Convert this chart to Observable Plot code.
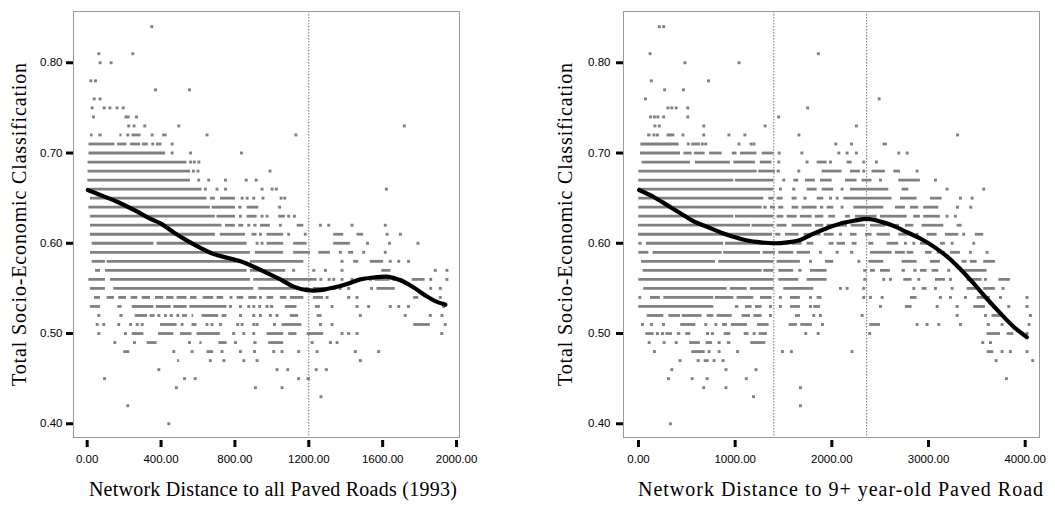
<!DOCTYPE html>
<html><head><meta charset="utf-8">
<script src="https://cdn.jsdelivr.net/npm/d3@7"></script>
<script src="https://cdn.jsdelivr.net/npm/@observablehq/plot@0.6"></script>
<style>
body{margin:0;background:#fff;}
#wrap{display:flex;width:1055px;height:506px;overflow:hidden;}
</style></head><body><div id="wrap"></div>
<script>
// ---- axis ticks / labels ----
const yTicks = [0.40, 0.50, 0.60, 0.70, 0.80];
const leftXTicks = [0, 400, 800, 1200, 1600, 2000];
const rightXTicks = [0, 1000, 2000, 3000, 4000];
const yTitle = "Total Socio-Economic Classification";
const leftXTitle = "Network Distance to all Paved Roads (1993)";
const rightXTitle = "Network Distance to 9+ year-old Paved Road";

// ---- vertical reference (dotted) lines ----
const leftRefLines = [1200];
const rightRefLines = [1400, 2360];

// ---- smoothed fit lines ----
const leftCurveX = [4, 90, 162, 253, 343, 397, 469, 541, 613, 686, 758, 830, 902, 974, 1046, 1118, 1191, 1263, 1335, 1407, 1479, 1551, 1624, 1696, 1768, 1840, 1894, 1939];
const leftCurveY = [0.659, 0.652, 0.646, 0.637, 0.627, 0.622, 0.612, 0.603, 0.595, 0.588, 0.584, 0.580, 0.574, 0.567, 0.560, 0.552, 0.548, 0.548, 0.551, 0.555, 0.560, 0.562, 0.563, 0.559, 0.551, 0.541, 0.535, 0.532];
const rightCurveX = [7, 162, 300, 438, 576, 714, 851, 989, 1127, 1265, 1403, 1541, 1679, 1817, 1955, 2092, 2230, 2368, 2506, 2644, 2782, 2920, 3058, 3196, 3333, 3471, 3609, 3747, 3885, 4016];
const rightCurveY = [0.659, 0.651, 0.642, 0.633, 0.624, 0.618, 0.612, 0.607, 0.603, 0.601, 0.600, 0.601, 0.604, 0.611, 0.617, 0.622, 0.625, 0.627, 0.624, 0.619, 0.612, 0.605, 0.596, 0.585, 0.571, 0.555, 0.538, 0.522, 0.507, 0.496];

// ---- scatter rows: [value, "x x x1-x2 ..."]  (single token = one case, a-b = run of adjacent cases) ----
const leftRows = [
  [0.84, "350"],
  [0.81, "63 247"],
  [0.80, "70 130"],
  [0.78, "20 45"],
  [0.77, "370 554"],
  [0.76, "38 70"],
  [0.75, "27 92 123 162 195"],
  [0.74, "34 210 222 267"],
  [0.73, "225 254 312 496 1717"],
  [0.72, "18-32 63-81 177-189 220 243-292 352 409-433 649 1130"],
  [0.71, "10-150 165-215 235-290 305 320 355 380 395 460"],
  [0.70, "10-425 460 560 835"],
  [0.69, "5-540 560 580 605"],
  [0.68, "5-560 575 600 990"],
  [0.67, "4-559 604 658 749 861 915"],
  [0.66, "18-622 640 703 749 947 1001 1024 1620"],
  [0.65, "18-649 667-694 722-803 839 866 902 952 1050 1070"],
  [0.64, "9-667 676-803 821-839 866-929 1042"],
  [0.63, "18-694 703-803 830 866-920 947 974 1037-1073 1091 1122"],
  [0.62, "18-730 749-803 821-848 875 902-920 938-992 1046 1137-1173 1263 1308 1434 1614"],
  [0.61, "18-694 721-857 893-920 938 974-1064 1091 1181 1335-1389 1461-1497 1624 1696"],
  [0.60, "27-361 379-866 920 947 974-1064 1118-1191 1335-1425 1518 1637 1791"],
  [0.59, "18-884 911-1064 1118-1209 1254-1317 1371 1416-1443 1497 1614"],
  [0.58, "27-99 108-848 884-1173 1380 1443-1470 1533-1605 1641 1687 1740"],
  [0.57, "45-72 99-866 884-1075 1118 1227 1290 1380 1595-1645 1885 1948"],
  [0.56, "9-99 126-884 902-1245 1265 1310 1335 1380 1434 1497 1533 1560-1640 1660 1700 1760-1830 1860 1948"],
  [0.55, "18-99 144-902 929-1140 1190 1225-1320 1340 1370 1416 1540 1569-1668 1777-1786 1860 1912"],
  [0.54, "40-72 108-148 171-213 238-274 298-343 370-415 430-470 487-541 559-595 628-685 703-739 779 812-848 875-920 938 974-1010 1046-1082 1100-1173 1225-1280 1299 1416 1461 1768-1795 1912"],
  [0.53, "18-72 166-189 244-361 375-455 469-541 556-757 776 830 875 902 934 974 992-1010 1073-1136 1236-1263 1326 1461 1524 1641 1687 1740 1930"],
  [0.52, "63 177-195 260-327 341-368 388 424 455 491 516-543 568-577 622-712 730-757 830 902 938 992 1028 1100-1145 1245-1272 1479 1722 1858 1921"],
  [0.51, "54 90 171 235 271 298 397-487 514 568-595 649 676 722 815 839 902 920 1014 1055-1163 1263 1326 1768-1858 1939"],
  [0.50, "63 207 244-307 386-469 505-568 595-721 793 848 902 974-1064 1091-1136 1191-1281 1380 1416 1461 1920"],
  [0.49, "150 256 325-379 554 610-622 713-758 803 902-920 983-1064 1218 1317 1353"],
  [0.48, "198-231 469 568 649-685 730 830 906 1010 1055 1145 1245 1452 1578"],
  [0.47, "490-501 667 740 848 920 1479"],
  [0.46, "388 1028 1086 1240 1295"],
  [0.45, "94 527 585 1145 1190-1209"],
  [0.44, "483 911 1055"],
  [0.43, "1266"],
  [0.42, "220"],
  [0.40, "442"]
];

const rightRows = [
  [0.84, "215 260"],
  [0.81, "120 1860"],
  [0.80, "480 1040"],
  [0.78, "133 725"],
  [0.77, "270 465"],
  [0.76, "72 2489"],
  [0.75, "305 345 390 510 1750"],
  [0.74, "125 165 200 260 510 1450"],
  [0.73, "170 215 675 1310 2254"],
  [0.72, "95-130 160 195 305 330 355 460 675 935 1100 1660 3300"],
  [0.71, "25-420 515 560 590 620 660 695 1040 1165 1195 2041 2203 2530-2575"],
  [0.70, "20-435 470-555 580-690 735-865 970-1020 1055-1225 1280-1400 1455 1690 2072 2158 2254 2693 2779"],
  [0.69, "38-538 590-951 986-1210 1260-1380 1451 1744 1848-1951 1986 2158-2210 2330 2461"],
  [0.68, "3-1227 1244-1417 1434-1468 1658 1900-2106 2193-2296 2330 2416-2554 2641-2710 2882"],
  [0.67, "3-986 1003-1400 1503 1606-1658 1727-1830 1882-2003 2141-2261 2313-2416 2503 2692-2916 3072"],
  [0.66, "3-1400 1468 1606 1744-1848 1900-2020 2106 2193-2589 2727-2796 3192 3571"],
  [0.65, "3-1296 1348-1400 1434-1496 1589-1641 1710-1744 1848-1917 1986 2055 2124-2623 2710-2882 3020-3141 3330 3451"],
  [0.64, "3-1279 1296-1331 1365-1417 1451-1503 1589-1658 1693-1848 1882-1917 1951-2020 2106 2227-2537 2658-2761 2813-2899 2950-3106 3299 3437"],
  [0.63, "3-986 1003-1400 1434-1503 1537-1641 1675-1796 1830-1917 1968-2037 2141-2192 2244-2468 2503-2778 2847-2916 2950-3123 3192 3278"],
  [0.62, "0-1160 1175-1400 1434-1537 1589-1796 1830-1917 1951-2160 2200-2350 2400-2560 2600-2700 2761-2848 2934-3158 3296-3347"],
  [0.61, "0-1386 1420-1472 1520-1661 1713-1886 1920-2023 2089 2193-2261 2348-2416 2468-2606 2692-2847 2882 2985-3089 3175-3313 3364 3485-3571"],
  [0.60, "3-38 83-882 900-1417 1451-1555 1589-1692 1744-1813 1972-2023 2055-2141 2210-2261 2382-2434 2572-2692 2761 2848 2916-3020 3123-3175 3244 3468"],
  [0.59, "3-107 152-865 882-1262 1289-1417 1451-1606 1641-1779 1882 2055 2193-2227 2399-2623 2658-2761 2779-2848 2968-3037 3089-3175 3227-3330 3433 3606"],
  [0.58, "31-796 831-1400 1434-1675 1779 1934-2020 2279 2382-2537 2727-2882 3020-3123 3347-3399 3433-3503 3571-3692"],
  [0.57, "48-1279 1296-1400 1451-1606 1658-1692 1779-1951 2330-2365 2399-2451 2503-2606 2727-2761 2847-2882 2916-2985 3037-3106 3209 3364-3606"],
  [0.56, "3-1400 1451-1658 1744-1951 2330-2365 2537 2606 2744-2830 2899 3072-3175 3227 3399-3554 3589 3727-3847"],
  [0.55, "55-917 951-1124 1158-1400 1503-1813 2089 2158 2330 2848 2934-2985 3072 3244 3399-3520 3571-3692 3771"],
  [0.54, "14 124-227 262-779 796-986 1020-1193 1262-1382 1468 1572-1675 1779 1848-1899 2330 2399 2520 2813-2882 3123 3227 3382 3503-3640 3744 4019"],
  [0.53, "3-779 1003-1038 1107-1175 1210-1279 1365 1468 1572-1675 1779 1813-1882 2503 2761-2830 3089 3296 3468-3589 3675 3830 4019"],
  [0.52, "90-262 314-434 452-658 710-779 813-969 1072-1158 1193-1279 1365 1624-1675 1813 1882 2313 3296 3589 3658-3761 4054"],
  [0.51, "41 134 259 437-593 696 800 869-920 961-1127 1230-1351 1558-1644 1679-1799 1903 2392-2503 2882 2985 3106 3330 3606-3640 3761 4040"],
  [0.50, "76-162 196 248 283-352 403-438 489-541 714 765 886-955 1093-1144 1196 1248-1334 1730 1858 2392 3606-3744 3813-3882 4019"],
  [0.49, "110 265 390 530-640 700-765 834 920-955 1161-1317 3561 3641"],
  [0.48, "165 551-690 731 834 1025 1489 1582 2209 3606-3675 3761 3847 4019"],
  [0.47, "430 617 679-731 782 875 3699 4078"],
  [0.46, "345 905 1215"],
  [0.45, "310 555 710 1115 3806"],
  [0.44, "675 905 1675"],
  [0.43, "1190"],
  [0.42, "1675"],
  [0.40, "330"]
];

function parseRows(rows) {
  const pts = [], segs = [];
  for (const [y, s] of rows) {
    for (const tok of s.trim().split(/\s+/)) {
      if (tok.includes("-")) {
        const [a, b] = tok.split("-").map(Number);
        segs.push({y, x1: a, x2: b});
      } else pts.push({y, x: +tok});
    }
  }
  return {pts, segs};
}

const GRAY = "#808080";
const serif = "'Liberation Serif','Times New Roman',serif";

function panel(o) {
  const {pts, segs} = parseRows(o.rows);
  const curve = o.curveX.map((x, i) => ({x, y: o.curveY[i]}));
  const svg = Plot.plot({
    width: o.width, height: 506,
    marginLeft: o.marginLeft, marginRight: o.marginRight, marginTop: 11, marginBottom: 69,
    x: {domain: o.xDomain},
    y: {domain: [0.3848, 0.8568]},
    style: {fontFamily: "'Liberation Sans', Arial, sans-serif", fontSize: "11.5px", color: "#000", background: "#fff", overflow: "visible"},
    marks: [
      Plot.ruleX(o.refs, {stroke: "#777", strokeDasharray: "1.5,1.5", strokeWidth: 1}),
      Plot.ruleY(segs, {y: "y", x1: "x1", x2: "x2", stroke: GRAY, strokeWidth: 2.8}),
      Plot.dot(pts, {x: "x", y: "y", symbol: "square", r: 1.65, fill: GRAY, stroke: "none"}),
      Plot.line(curve, {x: "x", y: "y", stroke: "#000", strokeWidth: 4.2, curve: "catmull-rom", strokeLinecap: "round"}),
      Plot.frame({stroke: "#9a9a9a", strokeWidth: 1}),
      Plot.axisY(yTicks, {tickFormat: d3.format(".2f"), tickSize: 7, tickPadding: o.yPad, strokeWidth: 3, stroke: "#000", label: null}),
      Plot.axisX(o.xTicks, {tickFormat: d3.format(".2f"), tickSize: 7, tickPadding: 7, strokeWidth: 3, stroke: "#000", dy: 3, label: null})
    ]
  });
  const s = d3.select(svg);
  s.append("text")
    .attr("transform", `translate(${o.yTitleX},224) rotate(-90)`)
    .attr("text-anchor", "middle").attr("dominant-baseline", "central")
    .style("font-family", serif).style("font-size", "20px").style("letter-spacing", o.yLs)
    .attr("fill", "#000").text(yTitle);
  s.append("text")
    .attr("x", o.xTitleX).attr("y", 496)
    .attr("text-anchor", "middle")
    .style("font-family", serif).style("font-size", "20px").style("letter-spacing", o.xLs)
    .attr("fill", "#000").text(o.xTitle);
  return svg;
}

const wrap = document.getElementById("wrap");
wrap.appendChild(panel({
  rows: leftRows, curveX: leftCurveX, curveY: leftCurveY, refs: leftRefLines,
  xTicks: leftXTicks, xDomain: [-74, 2016], width: 527, marginLeft: 73, marginRight: 68,
  yPad: 4, yTitleX: 19, xTitleX: 273, xTitle: leftXTitle, yLs: "0.85px", xLs: "0.25px"
}));
wrap.appendChild(panel({
  rows: rightRows, curveX: rightCurveX, curveY: rightCurveY, refs: rightRefLines,
  xTicks: rightXTicks, xDomain: [-155, 4148], width: 528, marginLeft: 96, marginRight: 16,
  yPad: 6, yTitleX: 38, xTitleX: 314, xTitle: rightXTitle, yLs: "0.85px", xLs: "1px"
}));
</script></body></html>
